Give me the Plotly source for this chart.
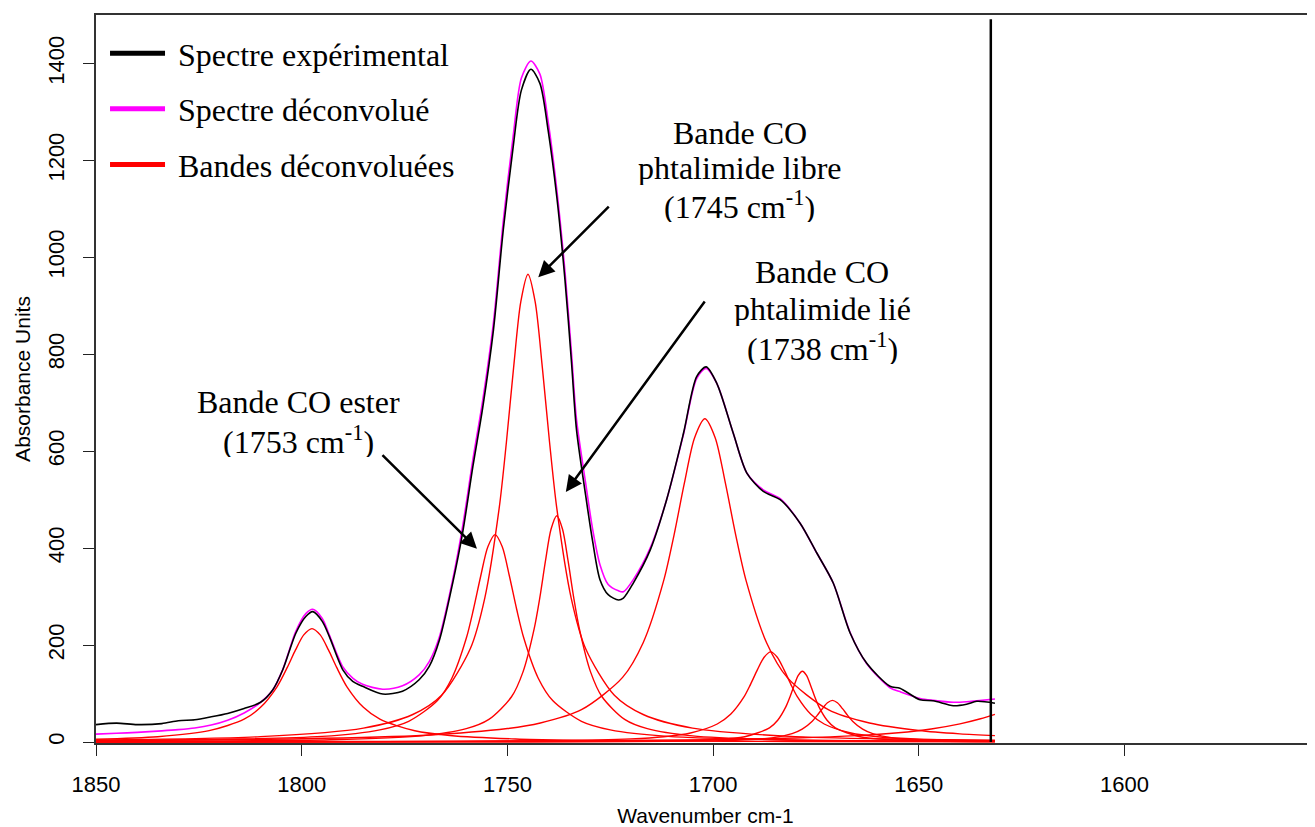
import plotly.graph_objects as go

# ---------------- data ----------------
# Experimental and deconvolved spectra, common wavenumber grid (cm-1)
wn_spec = [1850, 1845, 1840, 1834, 1830, 1826, 1822, 1818, 1814, 1810,
           1807, 1804.6, 1801.4, 1799, 1797.3, 1795, 1793.3, 1790, 1787.6, 1785.2,
           1780.3, 1775.5, 1771.4, 1769, 1766.5, 1763.3, 1760.9, 1758.4, 1756, 1753.4,
           1751, 1748.6, 1746.6, 1744.3, 1742.1, 1740.1, 1738, 1736, 1734.4, 1733.2,
           1731, 1729.3, 1727.5, 1725.5, 1723, 1721.8, 1719.4, 1715.3, 1711.3, 1707.2,
           1704, 1701.7, 1699.1, 1695.1, 1691.8, 1687.8, 1683.7, 1678.9, 1674.8, 1670.8,
           1666.7, 1662.7, 1657, 1654.6, 1649.7, 1646.5, 1641.6, 1638.4, 1635.9, 1631.5]

spectre_experimental = [36, 39, 36, 38, 44, 46, 52, 59, 69, 82,
                        108, 149, 225, 259, 269, 249, 218, 149, 125, 115,
                        99, 105, 129, 156, 211, 328, 431, 568, 690, 850,
                        1057, 1228, 1345, 1388, 1359, 1262, 1125, 953, 781, 644,
                        510, 415, 335, 304, 293, 297, 328, 396, 500, 637,
                        754, 774, 740, 637, 555, 517, 500, 452, 390, 328,
                        225, 163, 115, 111, 87, 85, 75, 78, 84, 80]

spectre_deconvolue = [16.4, 18, 20, 23, 25.5, 29, 35, 45, 60, 82,
                      108, 150, 229, 265, 274, 255, 221, 155, 132, 119,
                      109, 116, 139, 166, 218, 335, 444, 582, 705, 865,
                      1075, 1250, 1370, 1405, 1378, 1280, 1140, 970, 800, 665,
                      535, 440, 366, 325, 312, 310, 335, 400, 500, 635,
                      750, 771, 740, 637, 555, 520, 502, 452, 390, 328,
                      226, 162, 112, 104, 90, 86, 82, 83, 85, 88.7]

# Deconvolved bands
band_1798_x = [1850, 1835, 1822.5, 1814, 1810, 1806, 1803.5, 1801.5, 1799.5, 1797.5, 1795.5,
               1793.5, 1791.5, 1789, 1785, 1781, 1772.5, 1764, 1748, 1715, 1680, 1631.5]
band_1798_y = [5.7, 10.9, 23.4, 47.2, 71.6, 114, 154, 190, 221, 234, 221,
               190, 154, 114, 71.6, 47.2, 23.2, 13.5, 6.4, 2.3, 1.2, 0.6]

band_1753_x = [1850, 1795, 1781, 1774, 1767, 1763.5, 1760, 1758.25, 1756.5, 1754.75, 1753,
               1751.25, 1749.5, 1747.75, 1746, 1742.5, 1739, 1732, 1725, 1711, 1683, 1631.5]
band_1753_y = [2.2, 11.6, 25.2, 42.8, 85.6, 131.7, 214, 274, 342, 403, 428,
               403, 342, 274, 214, 131.7, 85.6, 42.8, 25.2, 11.6, 4.2, 1.4]

band_1745_x = [1850, 1810, 1785, 1773, 1766, 1759, 1755.5, 1752, 1750.25, 1748.5, 1746.75, 1745,
               1743.25, 1741.5, 1739.75, 1738, 1734.5, 1731, 1724, 1717, 1705, 1680, 1650, 1631.5]
band_1745_y = [4.3, 11.1, 28.7, 56.8, 96.5, 193, 297, 482.5, 618, 772, 908, 965,
               908, 772, 618, 482.5, 297, 193, 96.5, 56.8, 28.7, 11.1, 5.2, 3.7]

band_1738_x = [1850, 1793, 1771, 1760, 1754.5, 1749, 1746.25, 1743.5, 1742.1, 1740.75, 1739.4, 1738,
               1736.6, 1735.25, 1733.9, 1732.5, 1729.75, 1727, 1721.5, 1716, 1705, 1683, 1631.5]
band_1738_y = [1.1, 4.6, 12.6, 27.5, 46.7, 93.4, 143.7, 233.5, 299, 373.6, 439, 467,
               439, 373.6, 299, 233.5, 143.7, 93.4, 46.7, 27.5, 12.6, 4.6, 1.2]

band_1702_x = [1850, 1800, 1770, 1750, 1742, 1732, 1722, 1717, 1712, 1709.5, 1707, 1704.5, 1702,
               1699.5, 1697, 1694.5, 1692, 1687, 1682, 1672, 1662, 1650, 1640, 1631.5]
band_1702_y = [3.0, 6.9, 14.1, 27.8, 39.2, 66.7, 133.4, 205, 333.5, 427, 533.6, 628, 667,
               628, 533.6, 427, 333.5, 205, 133.4, 66.7, 39.2, 23.8, 16.9, 13.2]

band_1686_x = [1850, 1780, 1740, 1720, 1712, 1705.5, 1699, 1695.75, 1692.5, 1690.9, 1689.25, 1687.6, 1686,
               1684.4, 1682.75, 1681.1, 1679.5, 1676.25, 1673, 1666.5, 1660, 1650, 1631.5]
band_1686_y = [0.3, 0.9, 2.7, 6.5, 10.9, 18.6, 37.2, 57.2, 93, 119, 148.8, 175, 186,
               175, 148.8, 119, 93, 57.2, 37.2, 18.6, 10.9, 5.9, 2.6]

band_1678_x = [1850, 1760, 1720, 1700, 1692.3, 1686.3, 1684.3, 1682.3, 1681.3, 1680.3, 1679.3, 1678.3,
               1677.3, 1676.3, 1675.3, 1674.3, 1672.3, 1670.3, 1664.3, 1656.6, 1645, 1631.5]
band_1678_y = [0.08, 0.35, 1.3, 4.8, 11, 29.2, 44.9, 73, 93.4, 116.8, 137.4, 146,
               137.4, 116.8, 93.4, 73, 44.9, 29.2, 11, 4.8, 2.1, 1.06]

band_1671_x = [1850, 1760, 1720, 1700, 1690.6, 1685.7, 1680.8, 1678.35, 1675.9, 1674.7, 1673.45, 1672.2, 1671,
               1669.8, 1668.55, 1667.3, 1666.1, 1663.65, 1661.2, 1656.3, 1651.4, 1642, 1631.5]
band_1671_y = [0.06, 0.26, 0.85, 2.4, 5.1, 8.6, 17.2, 26.5, 43, 55, 68.8, 80.9, 86,
               80.9, 68.8, 55, 43, 26.5, 17.2, 8.6, 5.1, 2.4, 1.3]

band_1615_x = [1850, 1800, 1760, 1730, 1700, 1680, 1665, 1655, 1647, 1640, 1635, 1631.5]
band_1615_y = [0.7, 1.1, 1.8, 2.8, 5.0, 8.3, 13.2, 19.2, 27, 37.5, 48, 57.1]

# End-of-data marker (wavenumber) and its top value
end_marker_wn = 1632.5
end_marker_top = 1491

x_ticks = [1850, 1800, 1750, 1700, 1650, 1600]
y_ticks = [0, 200, 400, 600, 800, 1000, 1200, 1400]

legend_names = ["\u00a0Spectre expérimental", "\u00a0Spectre déconvolué", "\u00a0Bandes déconvoluées"]
legend_colors = ["#000000", "#ff00ff", "#ff0000"]

# ---------------- figure ----------------
SANS = "Liberation Sans, Arial, Helvetica, sans-serif"
SERIF = "Liberation Serif, Times New Roman, serif"

fig = go.Figure()

bands = [(band_1798_x, band_1798_y), (band_1753_x, band_1753_y), (band_1745_x, band_1745_y),
         (band_1738_x, band_1738_y), (band_1702_x, band_1702_y), (band_1686_x, band_1686_y),
         (band_1678_x, band_1678_y), (band_1671_x, band_1671_y), (band_1615_x, band_1615_y)]
for bx, by in bands:
    fig.add_trace(go.Scatter(x=bx, y=by, mode="lines", showlegend=False, hoverinfo="skip",
                             line=dict(color="#ff0000", width=1.4, shape="spline", smoothing=0.8)))

fig.add_trace(go.Scatter(x=wn_spec, y=spectre_deconvolue, mode="lines", showlegend=False,
                         line=dict(color="#ff00ff", width=1.6, shape="spline", smoothing=0.8)))
fig.add_trace(go.Scatter(x=wn_spec, y=spectre_experimental, mode="lines", showlegend=False,
                         line=dict(color="#000000", width=1.6, shape="spline", smoothing=0.8)))

for i, (nm, col) in enumerate(zip(legend_names, legend_colors)):
    fig.add_trace(go.Scatter(x=[None], y=[None], mode="lines", name=nm, legendgroup=f"g{i}",
                             line=dict(color=col, width=5), showlegend=True))

fig.add_shape(type="line", xref="x", yref="y", x0=end_marker_wn, x1=end_marker_wn,
              y0=0, y1=end_marker_top, line=dict(color="#000000", width=2.5))

# text labels (one annotation per line)
labels = [
    (1800.9, 702, "Bande CO ester"),
    (1800.9, 623, "(1753 cm<sup>-1</sup>)"),
    (1693.5, 1256, "Bande CO"),
    (1693.5, 1184, "phtalimide libre"),
    (1693.5, 1107, "(1745 cm<sup>-1</sup>)"),
    (1673.5, 970, "Bande CO"),
    (1673.5, 893, "phtalimide lié"),
    (1673.5, 816, "(1738 cm<sup>-1</sup>)"),
]
for lx, ly, txt in labels:
    fig.add_annotation(x=lx, y=ly, xref="x", yref="y", text=txt, showarrow=False,
                       xanchor="center", yanchor="middle", height=34, valign="middle",
                       font=dict(family=SERIF, size=32, color="#000000"))

arrows = [
    (1757.4, 399, -96, -95),
    (1742.5, 959, 72, -72),
    (1735.8, 516, 140, -192),
]
for tx, ty, ax, ay in arrows:
    fig.add_annotation(x=tx, y=ty, xref="x", yref="y", text="", showarrow=True,
                       ax=ax, ay=ay, arrowhead=2, arrowsize=1.3, arrowwidth=2.5,
                       arrowcolor="#000000", standoff=0)

# The page body has an 8 px default margin: the figure is sized/offset to compensate.
fig.update_layout(
    width=1307, height=819,
    margin=dict(l=88, r=0, t=7, b=84),
    paper_bgcolor="white", plot_bgcolor="white",
    showlegend=True,
    legend=dict(x=0.0074, y=0.985, xanchor="left", yanchor="top",
                font=dict(family=SERIF, size=32, color="#000000"),
                bgcolor="rgba(0,0,0,0)", tracegroupgap=11, itemwidth=55,
                traceorder="grouped"),
    xaxis=dict(range=[1850, 1553.7], autorange=False, tickmode="array", tickvals=x_ticks,
               ticks="outside", ticklen=11, tickwidth=1.3, tickcolor="#222222",
               ticklabelstandoff=10,
               showline=True, linecolor="#333333", linewidth=1.6, mirror=True,
               showgrid=False, zeroline=False,
               tickfont=dict(family=SANS, size=22, color="#000000"),
               title=dict(text="Wavenumber cm-1", font=dict(family=SANS, size=21, color="#000000"),
                          standoff=12)),
    yaxis=dict(range=[-2, 1500], autorange=False, tickmode="array", tickvals=y_ticks,
               tickangle=-90, ticklabelstandoff=10,
               ticks="outside", ticklen=11, tickwidth=1.3, tickcolor="#222222",
               showline=True, linecolor="#333333", linewidth=1.6, mirror=False,
               showgrid=False, zeroline=False,
               tickfont=dict(family=SANS, size=22, color="#000000"),
               title=dict(text="Absorbance Units", font=dict(family=SANS, size=21, color="#000000"),
                          standoff=8)),
)

fig.write_html("out.html")
